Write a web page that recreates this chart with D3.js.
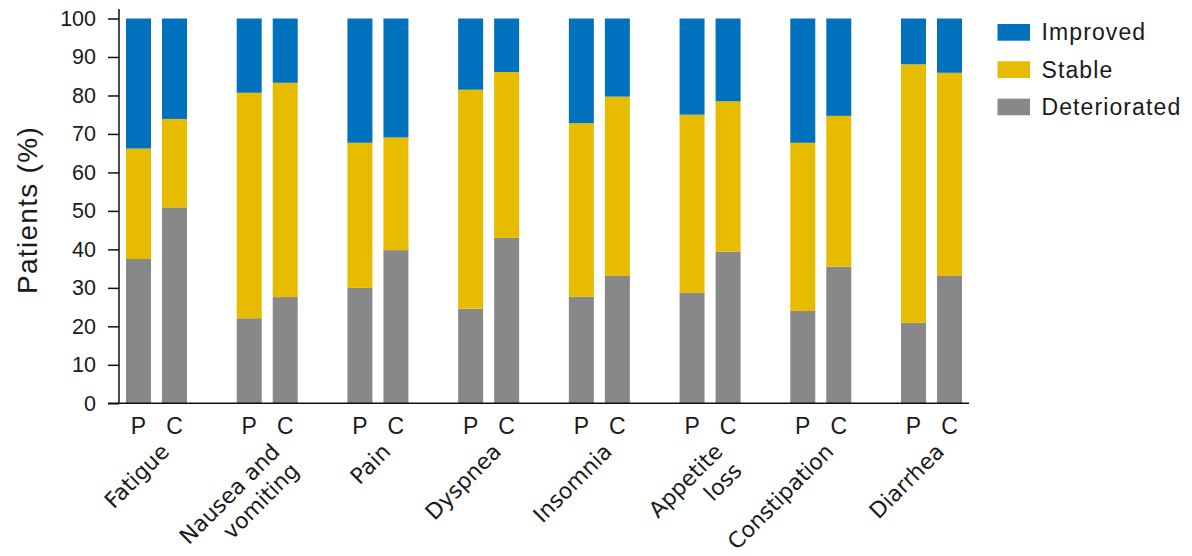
<!DOCTYPE html>
<html><head><meta charset="utf-8">
<script src="https://cdn.jsdelivr.net/npm/d3@7"></script>
<style>body{margin:0;background:#fff}</style>
</head><body><svg id="c" width="1192" height="556"></svg>
<script>
const categories = ["Fatigue", "Nausea and\nvomiting", "Pain", "Dyspnea", "Insomnia", "Appetite\nloss", "Constipation", "Diarrhea"];
const arms = ["P", "C"];
const seriesKeys = ["Deteriorated", "Stable", "Improved"];
const legendOrder = ["Improved", "Stable", "Deteriorated"];
// values in order: Fatigue P, Fatigue C, Nausea P, Nausea C, ...
const deteriorated = [37.5, 50.9, 22.1, 27.6, 30.0, 39.8, 24.6, 43.0, 27.7, 33.1, 28.7, 39.4, 24.0, 35.5, 20.9, 33.1];
const stable       = [28.7, 23.0, 58.6, 55.7, 37.7, 29.3, 56.9, 43.1, 45.1, 46.6, 46.3, 39.1, 43.7, 39.2, 67.2, 52.8];
const improved     = [33.8, 26.1, 19.3, 16.7, 32.3, 30.9, 18.5, 13.9, 27.2, 20.3, 25.0, 21.5, 32.3, 25.3, 11.9, 14.1];
const yTicks = [0, 10, 20, 30, 40, 50, 60, 70, 80, 90, 100];
const yTitle = "Patients (%)";

const colors = {Deteriorated: "#888888", Stable: "#E6BB00", Improved: "#0071BC"};

const rows = [];
categories.forEach((c, i) => arms.forEach((a, j) => {
  const k = i * 2 + j;
  rows.push({cat: c, arm: a, Deteriorated: deteriorated[k], Stable: stable[k], Improved: improved[k]});
}));
const layers = d3.stack().keys(seriesKeys)(rows);

const svg = d3.select("#c");
const x0 = d3.scaleBand().domain(categories).range([126, 962]).paddingInner(0.449).paddingOuter(0);
const x1 = d3.scaleBand().domain(arms).range([0, x0.bandwidth()]).paddingInner(0.306).paddingOuter(0);
const y = d3.scaleLinear().domain([0, 100]).range([403.3, 18.5]);

// bars
svg.append("g").selectAll("g").data(layers).join("g")
  .attr("fill", d => colors[d.key])
  .selectAll("rect").data(d => d).join("rect")
  .attr("x", d => x0(d.data.cat) + x1(d.data.arm))
  .attr("width", x1.bandwidth())
  .attr("y", d => y(d[1]))
  .attr("height", d => y(d[0]) - y(d[1]));

// y axis
const yAxis = svg.append("g").attr("transform", "translate(119,0)")
  .call(d3.axisLeft(y).tickValues(yTicks).tickSize(11).tickPadding(12).tickSizeOuter(0));
yAxis.select(".domain").remove();
yAxis.selectAll(".tick line").attr("stroke", "#111").attr("stroke-width", 1.5);
yAxis.selectAll(".tick text").attr("font-family", "'Liberation Sans', Arial, sans-serif")
  .attr("font-size", 21.5).attr("fill", "#1a1a1a");
svg.append("line").attr("x1", 119).attr("x2", 119).attr("y1", 9).attr("y2", y(0))
  .attr("stroke", "#111").attr("stroke-width", 1.5);

// x axis line
svg.append("line").attr("x1", 108).attr("x2", 969).attr("y1", y(0)).attr("y2", y(0))
  .attr("stroke", "#111").attr("stroke-width", 1.5);

// P / C labels
svg.append("g").selectAll("text").data(rows).join("text")
  .attr("x", d => x0(d.cat) + x1(d.arm) + x1.bandwidth() / 2)
  .attr("y", 434)
  .attr("text-anchor", "middle")
  .attr("font-family", "'Liberation Sans', Arial, sans-serif")
  .attr("font-size", 23).attr("fill", "#1a1a1a")
  .text(d => d.arm);

// category labels
const cl = svg.append("g").selectAll("text").data(categories).join("text")
  .attr("transform", d => `translate(${x0(d) + x0.bandwidth() / 2 + 14},453) rotate(-45)`)
  .attr("text-anchor", "end")
  .attr("font-family", "'DejaVu Sans', Verdana, sans-serif")
  .attr("font-size", 22).attr("fill", "#1a1a1a");
cl.selectAll("tspan").data(d => d.split("\n")).join("tspan")
  .attr("x", 0).attr("dy", (d, i) => i === 0 ? 0 : 27).text(d => d);

// y title
svg.append("text")
  .attr("transform", "translate(37,210) rotate(-90)")
  .attr("text-anchor", "middle")
  .attr("font-family", "'Liberation Sans', Arial, sans-serif")
  .attr("font-size", 28).attr("letter-spacing", 1.3).attr("fill", "#1a1a1a")
  .text(yTitle);

// legend
const lg = svg.append("g").selectAll("g").data(legendOrder).join("g")
  .attr("transform", (d, i) => `translate(997.5,${24 + i * 37.3})`);
lg.append("rect").attr("width", 32.5).attr("height", 16.7).attr("fill", d => colors[d]);
lg.append("text").attr("x", 44).attr("y", 16.3)
  .attr("font-family", "'Liberation Sans', Arial, sans-serif")
  .attr("font-size", 23).attr("letter-spacing", 1.1).attr("fill", "#1a1a1a")
  .text(d => d);
</script></body></html>
